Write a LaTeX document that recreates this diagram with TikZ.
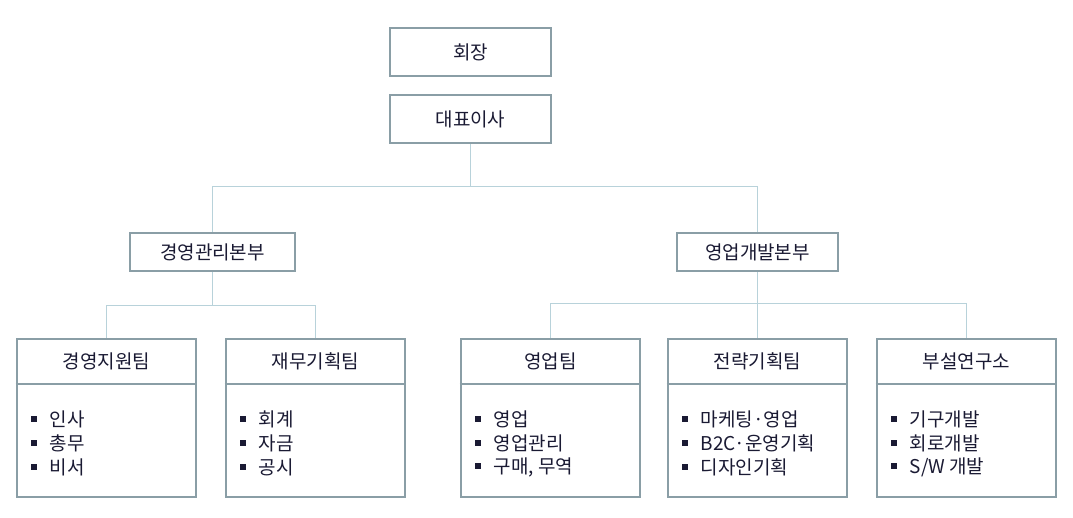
\documentclass[tikz,border=0pt]{standalone}
\usepackage{fontspec}
\setmainfont{Noto Sans CJK KR}
\usetikzlibrary{positioning}
\definecolor{boxline}{HTML}{8A9EA6}
\definecolor{linkline}{HTML}{B8D2DA}
\definecolor{txt}{HTML}{1A1A33}
\begin{document}
\begin{tikzpicture}[x=1pt,y=-1pt,
  box/.style={draw=boxline,line width=2.6pt,fill=white,text=txt,font=\fontsize{19}{22}\selectfont,inner sep=0pt},
  team/.style={draw=boxline,line width=2.6pt,fill=white,minimum width=179pt,minimum height=158pt,inner sep=0pt},
  link/.style={draw=linkline,line width=1pt},
  item/.style={anchor=west,text=txt,font=\fontsize{19}{22}\selectfont,inner sep=0pt}]
\useasboundingbox (0,0) rectangle (1073,517);
\newcommand{\bul}{\textcolor{txt}{\raisebox{4pt}{\rule{6pt}{6pt}}}\hspace{13pt}}

\node [box,minimum width=161pt,minimum height=48pt] (chair) at (470.5,52) {회장};
\node [box,minimum width=161pt,minimum height=48pt] (ceo) at (470.5,119) {대표이사};
\node [box,minimum width=165pt,minimum height=38pt] (mgmt) at (212.5,252) {경영관리본부};
\node [box,minimum width=161pt,minimum height=38pt] (sales) at (757.5,252) {영업개발본부};

% teams
\foreach \x/\n/\t/\a/\b/\c in {
  106.5/t1/경영지원팀/인사/총무/비서,
  315.5/t2/재무기획팀/회계/자금/공시,
  550.5/t3/영업팀/영업/영업관리/{구매, 무역},
  757.5/t4/전략기획팀/마케팅·영업/B2C·운영기획/디자인기획,
  966.5/t5/부설연구소/기구개발/회로개발/{S/W 개발}}{
  \node [team] (\n) at (\x,418) {};
  \draw [boxline,line width=2.6pt] (\n.west |- 0,384) -- (\n.east |- 0,384);
  \node [text=txt,font=\fontsize{19}{22}\selectfont] (\n h) at (\x,361) {\t};
  \node [item] (\n a) at (\x-76,419) {\bul\a};
  \node [item] (\n b) at (\x-76,443) {\bul\b};
  \node [item] (\n c) at (\x-76,467) {\bul\c};
}

% connectors
\draw [link] (ceo.south) -- ++(0,42) coordinate (j1);
\draw [link] (mgmt.north) |- (j1) -| (sales.north);
\draw [link] (mgmt.south) -- ++(0,33) coordinate (j2);
\draw [link] (t1.north) |- (j2) -| (t2.north);
\draw [link] (sales.south) -- ++(0,31) coordinate (j3);
\draw [link] (t3.north) |- (j3) -| (t5.north);
\draw [link] (j3) -- (t4.north);
\end{tikzpicture}
\end{document}
